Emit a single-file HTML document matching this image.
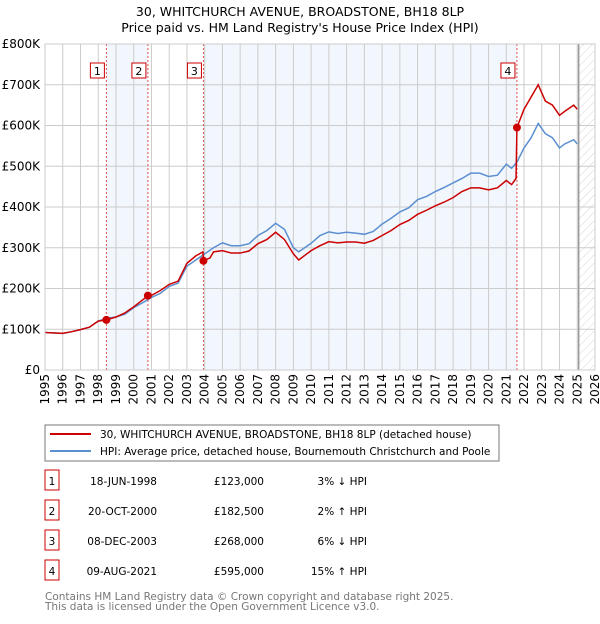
<!DOCTYPE html>
<html><head><meta charset="utf-8"><style>
body{margin:0;background:#fff;font-family:"DejaVu Sans","Liberation Sans",sans-serif;}
</style></head><body>
<svg width="600" height="620" viewBox="0 0 600 620" xmlns="http://www.w3.org/2000/svg" font-family="DejaVu Sans, Liberation Sans, sans-serif">
<text x="300" y="16" text-anchor="middle" font-size="12.5">30, WHITCHURCH AVENUE, BROADSTONE, BH18 8LP</text>
<text x="300" y="32" text-anchor="middle" font-size="12.5">Price paid vs. HM Land Registry's House Price Index (HPI)</text>
<defs><pattern id="hatch" width="6" height="6" patternUnits="userSpaceOnUse" patternTransform="rotate(45)"><line x1="0" y1="0" x2="0" y2="6" stroke="#ccc" stroke-width="0.8"/></pattern></defs>
<g id="plot"></g>
<rect x="45" y="425" width="454" height="36" fill="#fff" stroke="#777"/>
<line x1="50" y1="434" x2="91" y2="434" stroke="#cc0000" stroke-width="2"/>
<text x="100" y="438" font-size="10.5">30, WHITCHURCH AVENUE, BROADSTONE, BH18 8LP (detached house)</text>
<line x1="50" y1="451" x2="91" y2="451" stroke="#5b8fd0" stroke-width="2"/>
<text x="100" y="455" font-size="10.5">HPI: Average price, detached house, Bournemouth Christchurch and Poole</text>
<g id="table" font-size="10.5"></g>
<text x="45" y="600" font-size="10.5" fill="#777">Contains HM Land Registry data © Crown copyright and database right 2025.</text>
<text x="45" y="610" font-size="10.5" fill="#777">This data is licensed under the Open Government Licence v3.0.</text>
</svg>
<script>
const hpiYears=[1995,1996,1996.5,1997,1997.5,1998,1998.5,1999,1999.5,2000,2000.5,2001,2001.5,2002,2002.5,2003,2003.5,2004,2004.5,2005,2005.5,2006,2006.5,2007,2007.5,2008,2008.5,2009,2009.3,2010,2010.5,2011,2011.5,2012,2012.5,2013,2013.5,2014,2014.5,2015,2015.5,2016,2016.5,2017,2017.5,2018,2018.5,2019,2019.5,2020,2020.5,2021,2021.3,2021.6,2022,2022.4,2022.8,2023.2,2023.6,2024,2024.3,2024.8,2025.0];
const hpiValues=[92,90,94,99,105,120,127,130,137,153,165,178,188,205,213,255,270,285,300,312,305,305,310,330,342,360,345,300,290,311,330,339,335,338,336,333,340,358,372,388,398,418,426,438,448,459,470,483,483,475,478,505,495,510,545,570,605,580,570,545,555,565,555];
const ppYears=[1995,1996,1996.5,1997,1997.5,1998,1998.46,1999,1999.5,2000,2000.8,2001,2001.5,2002,2002.5,2003,2003.5,2003.9,2003.93,2004.3,2004.5,2005,2005.5,2006,2006.5,2007,2007.5,2008,2008.5,2009,2009.3,2010,2010.5,2011,2011.5,2012,2012.5,2013,2013.5,2014,2014.5,2015,2015.5,2016,2016.5,2017,2017.5,2018,2018.5,2019,2019.5,2020,2020.5,2021,2021.3,2021.55,2021.6,2022,2022.4,2022.8,2023.2,2023.6,2024,2024.3,2024.8,2025.0];
const ppValues=[92,90,94,99,105,120,123,130,140,155,182,183,195,210,218,262,280,290,268,275,290,293,287,287,292,310,320,338,320,285,270,293,305,315,312,314,314,311,318,330,342,357,367,382,392,403,412,423,438,447,447,442,447,465,455,470,595,640,670,700,660,650,625,635,650,640];
const saleLabels=["1","2","3","4"];
const saleYears=[1998.46,2000.8,2003.93,2021.6];
const salePrices=[123,182.5,268,595];
const saleDates=["18-JUN-1998","20-OCT-2000","08-DEC-2003","09-AUG-2021"];
const salePriceText=["£123,000","£182,500","£268,000","£595,000"];
const saleHpiText=["3% ↓ HPI","2% ↑ HPI","6% ↓ HPI","15% ↑ HPI"];
const yTicks=[0,100,200,300,400,500,600,700,800];
const yTickLabels=["£0","£100K","£200K","£300K","£400K","£500K","£600K","£700K","£800K"];
const xYears=[1995,1996,1997,1998,1999,2000,2001,2002,2003,2004,2005,2006,2007,2008,2009,2010,2011,2012,2013,2014,2015,2016,2017,2018,2019,2020,2021,2022,2023,2024,2025,2026];
const dataEnd=2025.08;

const NS="http://www.w3.org/2000/svg";
const L=45,R=595,T=44,B=370;
const x=y=>L+(y-1995)/(2026-1995)*(R-L);
const yv=v=>B-v/800*(B-T);
const g=document.getElementById('plot');
function mk(tag,attrs,parent){const e=document.createElementNS(NS,tag);for(const k in attrs)e.setAttribute(k,attrs[k]);(parent||g).appendChild(e);return e;}

const bg=mk('rect',{x:L,y:T,width:R-L,height:B-T,fill:'#fff'});


for(let i=0;i<saleYears.length;i+=2){
  const s=mk('rect',{x:x(saleYears[i]),y:T,width:x(saleYears[i+1])-x(saleYears[i]),height:B-T,fill:'#f2f6fd'});
  
  
}
const h=mk('rect',{x:x(dataEnd),y:T,width:R-x(dataEnd),height:B-T,fill:'url(#hatch)'});


xYears.forEach(yr=>{
  const l=mk('line',{x1:x(yr),x2:x(yr),y1:T,y2:B,stroke:'#ccc','stroke-width':1});
  
  
  const t=mk('text',{x:0,y:0,'font-size':12,'text-anchor':'end',transform:`translate(${x(yr)+4},374) rotate(-90)`});
  t.textContent=yr;
  
  
});
yTicks.forEach((v,i)=>{
  const l=mk('line',{x1:L,x2:R,y1:yv(v),y2:yv(v),stroke:'#ccc','stroke-width':1});
  
  
  const t=mk('text',{x:40,y:yv(v)+4,'font-size':12,'text-anchor':'end'});
  t.textContent=yTickLabels[i];
  
  
});
const dl=mk('line',{x1:x(dataEnd),x2:x(dataEnd),y1:T,y2:B,stroke:'#999','stroke-width':1.5});


saleYears.forEach((yr,i)=>{
  const l=mk('line',{x1:x(yr),x2:x(yr),y1:T,y2:B,stroke:'#e05050','stroke-width':1,'stroke-dasharray':'2,2'});
  
  
});
const hp=mk('polyline',{points:hpiYears.map((yr,i)=>x(yr)+','+yv(hpiValues[i])).join(' '),fill:'none',stroke:'#5b8fd0','stroke-width':1.5});


const pp=mk('polyline',{points:ppYears.map((yr,i)=>x(yr)+','+yv(ppValues[i])).join(' '),fill:'none',stroke:'#cc0000','stroke-width':1.5});


saleYears.forEach((yr,i)=>{
  const c=mk('circle',{cx:x(yr),cy:yv(salePrices[i]),r:4,fill:'#cc0000'});
  
  
  const bx=mk('rect',{x:x(yr)-16,y:63,width:14,height:15,fill:'#fff',stroke:'#cc0000'});
  
  
  const t=mk('text',{x:x(yr)-9,y:75,'font-size':11,'text-anchor':'middle'});
  t.textContent=saleLabels[i];
  
  
});
const ax=mk('rect',{x:L,y:T,width:R-L,height:B-T,fill:'none',stroke:'#ccc'});



const tb=document.getElementById('table');
saleLabels.forEach((lab,i)=>{
  const cy=483+i*30;
  const b=mk('rect',{x:45,y:cy-13,width:14,height:20,fill:'#fff',stroke:'#cc0000'},tb);
  
  
  const cols=[[52,lab,'middle','table-index'],[157,saleDates[i],'end','table-date'],[264,salePriceText[i],'end','table-price'],[367,saleHpiText[i],'end','table-hpi-diff']];
  cols.forEach(c=>{
    const t=mk('text',{x:c[0],y:cy+2,'text-anchor':c[2]},tb);
    t.textContent=c[1];
    
    
  });
});
</script>
</body></html>
